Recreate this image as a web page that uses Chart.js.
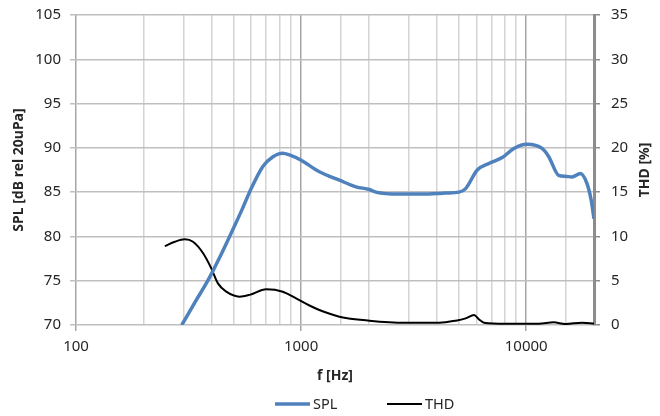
<!DOCTYPE html>
<html>
<head>
<meta charset="utf-8">
<script src="https://cdn.jsdelivr.net/npm/chart.js@4.4.1/dist/chart.umd.min.js"></script>
<style>
html,body{margin:0;padding:0;background:#fff;}
#wrap{width:660px;height:416px;position:relative;}
</style>
</head>
<body>
<div id="wrap"><canvas id="c" width="660" height="416"></canvas></div>
<script>
// ---- data ----
const splFreq = [295, 340, 385, 440, 498, 550, 590, 676, 750, 828, 888, 1000, 1205, 1479, 1754, 2009, 2148, 2726, 3459, 4103, 4386, 5025, 5380, 6059, 6823, 7820, 8810, 10090, 11760, 12590, 13930, 14920, 15970, 17400, 18600, 19400, 20000];
const splValues = [70, 72.7, 75, 77.9, 80.8, 83.2, 85.0, 87.9, 89.0, 89.4, 89.2, 88.6, 87.3, 86.35, 85.6, 85.3, 85.0, 84.78, 84.78, 84.85, 84.9, 85.0, 85.4, 87.5, 88.24, 88.9, 89.93, 90.4, 89.93, 89.0, 86.9, 86.8, 86.7, 87.1, 86.0, 84.2, 82.0];
const thdFreq = [248, 275, 304, 331, 367, 399, 427, 465, 533, 590, 700, 829, 950, 1089, 1205, 1479, 2009, 2917, 4103, 4864, 5380, 5865, 6158, 6488, 8100, 11360, 13240, 14920, 17700, 20000];
const thdValues = [8.9, 9.4, 9.67, 9.4, 8.1, 6.4, 4.7, 3.76, 3.2, 3.4, 4.03, 3.76, 3.0, 2.2, 1.69, 0.94, 0.49, 0.26, 0.26, 0.49, 0.75, 1.13, 0.65, 0.26, 0.15, 0.15, 0.3, 0.11, 0.26, 0.17];
const xLabels = [100, 1000, 10000];
const leftTicks = [70, 75, 80, 85, 90, 95, 100, 105];
const rightTicks = [0, 5, 10, 15, 20, 25, 30, 35];
const seriesNames = ['SPL', 'THD'];
const seriesColors = ['#4f81bd', '#000000'];

const FONT = '"Noto Sans", "Open Sans", sans-serif';
const TXT = '#262626';

const isDecade = v => Math.abs(Math.log10(v) - Math.round(Math.log10(v))) < 1e-9;

const rightTitlePlugin = {
  id: 'rightTitle',
  afterDraw(chart) {
    const ctx = chart.ctx, a = chart.chartArea;
    ctx.save();
    ctx.translate(645, (a.top + a.bottom) / 2);
    ctx.rotate(-Math.PI / 2);
    ctx.font = 'bold 14px ' + FONT;
    ctx.fillStyle = TXT;
    ctx.textAlign = 'center';
    ctx.textBaseline = 'middle';
    ctx.fillText('THD [%]', 0, 0);
    ctx.restore();
  }
};

const legendPlugin = {
  id: 'customLegend',
  afterDraw(chart) {
    const ctx = chart.ctx, a = chart.chartArea;
    const cx = (a.left + a.right) / 2;
    const y = 404;
    const starts = [cx - 60, cx + 52];
    ctx.save();
    ctx.font = '14.5px ' + FONT;
    ctx.textBaseline = 'middle';
    ctx.textAlign = 'left';
    chart.data.datasets.forEach((ds, i) => {
      const x0 = starts[i];
      ctx.strokeStyle = ds.borderColor;
      ctx.lineWidth = ds.borderWidth;
      ctx.beginPath();
      ctx.moveTo(x0, y);
      ctx.lineTo(x0 + 35, y);
      ctx.stroke();
      ctx.fillStyle = TXT;
      ctx.fillText(ds.label, x0 + 38, y + 0.5);
    });
    ctx.restore();
  }
};

const fitY = w => s => { s.width = w; s.paddingTop = 0; s.paddingBottom = 0; };

const chart = new Chart(document.getElementById('c'), {
  type: 'line',
  data: {
    datasets: [
      {
        label: seriesNames[0],
        data: splFreq.map((f, i) => ({x: f, y: splValues[i]})),
        yAxisID: 'y',
        borderColor: seriesColors[0],
        borderWidth: 3.5,
        pointRadius: 0,
        cubicInterpolationMode: 'monotone',
        fill: false
      },
      {
        label: seriesNames[1],
        data: thdFreq.map((f, i) => ({x: f, y: thdValues[i]})),
        yAxisID: 'y2',
        borderColor: seriesColors[1],
        borderWidth: 2,
        pointRadius: 0,
        cubicInterpolationMode: 'monotone',
        fill: false
      }
    ]
  },
  options: {
    responsive: false,
    animation: false,
    devicePixelRatio: 1,
    layout: {padding: {top: 15, bottom: 31, left: 0, right: 0}},
    plugins: {legend: {display: false}, tooltip: {enabled: false}},
    scales: {
      x: {
        type: 'logarithmic',
        min: 100,
        max: 20000,
        border: {display: false},
        grid: {
          color: c => (c.tick && isDecade(c.tick.value)) ? '#a6a6a6' : '#d4d4d4',
          lineWidth: 1.5,
          tickLength: 6,
          tickColor: c => (c.tick && isDecade(c.tick.value)) ? '#a6a6a6' : 'rgba(0,0,0,0)'
        },
        ticks: {
          autoSkip: false,
          maxRotation: 0,
          padding: 7,
          color: TXT,
          font: {family: FONT, size: 15},
          callback: v => xLabels.includes(v) ? String(v) : ''
        },
        title: {
          display: true,
          text: 'f [Hz]',
          color: TXT,
          font: {family: FONT, size: 14, weight: 'bold'},
          padding: {top: 0, bottom: 1}
        },
        afterFit: s => { s.height = 60; s.paddingLeft = 0; s.paddingRight = 0; }
      },
      y: {
        type: 'linear',
        position: 'left',
        min: 70,
        max: 105,
        afterBuildTicks: s => { s.ticks = leftTicks.map(v => ({value: v})); },
        border: {display: false},
        grid: {color: '#bfbfbf', lineWidth: 1.5, tickLength: 6, tickColor: '#bfbfbf'},
        ticks: {padding: 9, color: TXT, font: {family: FONT, size: 15}},
        title: {
          display: true,
          text: 'SPL [dB rel 20uPa]',
          color: TXT,
          font: {family: FONT, size: 14, weight: 'bold'},
          padding: {top: 11, bottom: 0}
        },
        afterFit: fitY(76)
      },
      y2: {
        type: 'linear',
        position: 'right',
        min: 0,
        max: 35,
        afterBuildTicks: s => { s.ticks = rightTicks.map(v => ({value: v})); },
        border: {display: true, color: '#8c8c8c', width: 3},
        grid: {drawOnChartArea: false, tickLength: 6, tickColor: '#8c8c8c', lineWidth: 1.5},
        ticks: {padding: 11, color: TXT, font: {family: FONT, size: 15}},
        afterFit: fitY(66)
      }
    }
  },
  plugins: [rightTitlePlugin, legendPlugin]
});
</script>
</body>
</html>
